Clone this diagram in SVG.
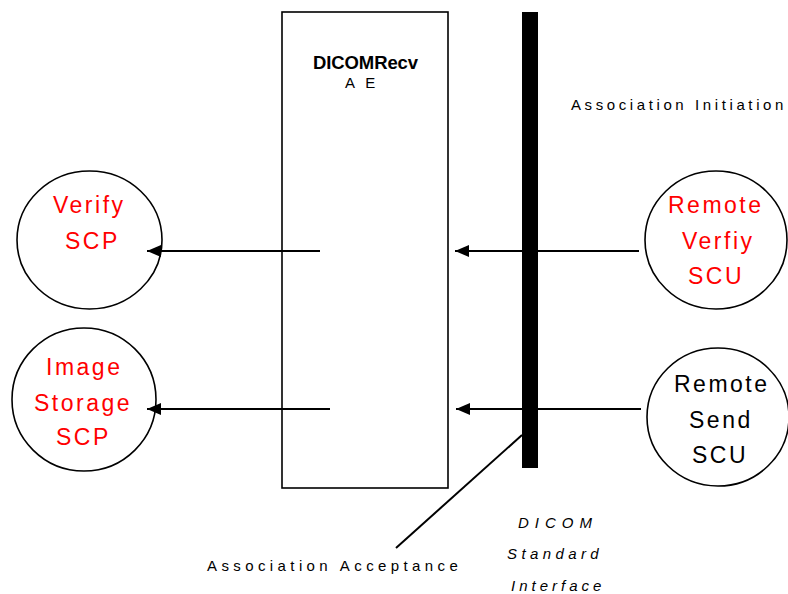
<svg xmlns="http://www.w3.org/2000/svg" width="788" height="594" viewBox="0 0 788 594">
<style>
.t{font-family:"Liberation Sans",Arial,sans-serif;fill:#000}
.big{font-size:23px;letter-spacing:2.5px}
.red{fill:#ff0000}
.sm{font-size:15px}
.node{fill:#fff;stroke:#000;stroke-width:1.6}
.conn{stroke:#000;stroke-width:2;fill:none}
</style>
<defs>
<marker id="ah" viewBox="0 -6 14 12" refX="14" refY="0" markerWidth="14" markerHeight="12" markerUnits="userSpaceOnUse" orient="auto">
<path d="M0,-6 L14,0 L0,6 z" fill="#000"/>
</marker>
</defs>
<rect width="788" height="594" fill="#fff"/>
<g id="dicomrecv">
<rect class="node" x="282" y="12" width="166" height="476" stroke-width="1.8"/>
<text class="t" x="313" y="69" font-size="18.5" font-weight="bold" letter-spacing="-0.1">DICOMRecv</text>
<text class="t sm" x="345" y="88" letter-spacing="3.4">A E</text>
</g>
<g id="interface-bar">
<rect x="522" y="12" width="16" height="456" fill="#000"/>
</g>
<g id="verify-scp">
<ellipse class="node" cx="89.5" cy="240" rx="72.5" ry="69"/>
<text class="t big red" x="53" y="213">Verify</text>
<text class="t big red" x="65" y="249" letter-spacing="1.8">SCP</text>
</g>
<g id="image-storage-scp">
<ellipse class="node" cx="84" cy="399.5" rx="72" ry="71.5"/>
<text class="t big red" x="46" y="375">Image</text>
<text class="t big red" x="34" y="411">Storage</text>
<text class="t big red" x="56" y="445" letter-spacing="1.8">SCP</text>
</g>
<g id="remote-verify-scu">
<ellipse class="node" cx="716" cy="240" rx="71" ry="69"/>
<text class="t big red" x="668" y="213">Remote</text>
<text class="t big red" x="682" y="249">Verfiy</text>
<text class="t big red" x="688" y="284" letter-spacing="1.8">SCU</text>
</g>
<g id="remote-send-scu">
<ellipse class="node" cx="718" cy="417" rx="71" ry="69"/>
<text class="t big" x="674" y="392">Remote</text>
<text class="t big" x="689" y="428">Send</text>
<text class="t big" x="692" y="463" letter-spacing="1.8">SCU</text>
</g>
<g id="connectors">
<line class="conn" x1="320" y1="251" x2="147" y2="251" marker-end="url(#ah)"/>
<line class="conn" x1="330" y1="409" x2="147" y2="409" marker-end="url(#ah)"/>
<line class="conn" x1="639" y1="251" x2="455" y2="251" marker-end="url(#ah)"/>
<line class="conn" x1="641" y1="409" x2="456" y2="409" marker-end="url(#ah)"/>
<line class="conn" x1="522" y1="435" x2="396" y2="548" stroke-width="1.6"/>
</g>
<g id="labels">
<text class="t sm" x="571" y="110" letter-spacing="3.6">Association Initiation</text>
<text class="t sm" x="207" y="571" letter-spacing="4.4">Association Acceptance</text>
<text class="t sm" x="518" y="528" font-style="italic" letter-spacing="6">DICOM</text>
<text class="t sm" x="507" y="559" font-style="italic" letter-spacing="4.4">Standard</text>
<text class="t sm" x="511" y="591" font-style="italic" letter-spacing="4">Interface</text>
</g>
</svg>
